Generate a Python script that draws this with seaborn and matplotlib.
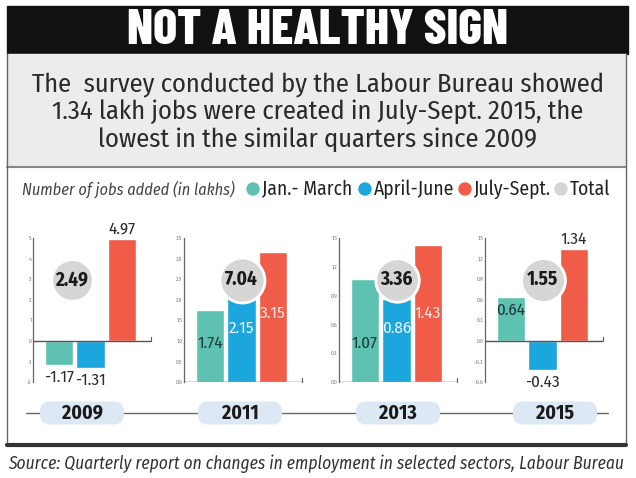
import matplotlib.pyplot as plt
import numpy as np
import pandas as pd
import seaborn as sns
from matplotlib import font_manager
from matplotlib.patches import Circle, FancyBboxPatch, Rectangle

# data (lakh jobs)
years = ["2009", "2011", "2013", "2015"]
quarters = ["Jan.- March", "April-June", "July-Sept."]
jan_mar = [-1.17, 1.74, 1.07, 0.64]
apr_jun = [-1.31, 2.15, 0.86, -0.43]
jul_sep = [4.97, 3.15, 1.43, 1.34]
totals = [2.49, 7.04, 3.36, 1.55]

y_ticks = [
    [-2, -1, 0, 1, 2, 3, 4, 5],
    [0.0, 0.5, 1.0, 1.5, 2.0, 2.5, 3.0, 3.5],
    [0.0, 0.3, 0.6, 0.9, 1.2, 1.5],
    [-0.6, -0.3, 0.0, 0.3, 0.6, 0.9, 1.2, 1.5],
]
tick_fmt = ["{:.0f}", "{:.1f}", "{:.1f}", "{:.1f}"]

title = "NOT A HEALTHY SIGN"
subtitle = ("The  survey conducted by the Labour Bureau showed\n"
            "1.34 lakh jobs were created in July-Sept. 2015, the\n"
            "lowest in the similar quarters since 2009")
legend_title = "Number of jobs added (in lakhs)"
source = "Source: Quarterly report on changes in employment in selected sectors, Labour Bureau"

colors = ["#5ec2b3", "#1ba6dd", "#f15c48"]
total_color = "#d6d6d4"
inside_colors = ["#1d3b37", "#eaf7fd", "#fde3dd"]

df = pd.DataFrame({
    "year": np.repeat(years, 3),
    "quarter": quarters * len(years),
    "jobs": [v for trio in zip(jan_mar, apr_jun, jul_sep) for v in trio],
})

available = {f.name for f in font_manager.fontManager.ttflist}


def pick(*cands):
    for c in cands:
        if c in available:
            return c
    return "DejaVu Sans"


head_font = pick("Barlow Condensed", "Fira Sans Extra Condensed", "Oswald")
body_font = pick("Fira Sans Condensed", "PT Sans Narrow", "Roboto Condensed",
                 "Sofia Sans Condensed", "Encode Sans Condensed")

sns.set_theme(style="white")
plt.rcParams["font.family"] = [body_font, "DejaVu Sans"]

W, H = 636, 478
fig = plt.figure(figsize=(W / 100, H / 100), dpi=100)

# pixel-space background axes for the frame, title, legend, timeline
bg = fig.add_axes([0, 0, 1, 1], zorder=0)
bg.set_xlim(0, W)
bg.set_ylim(H, 0)
bg.axis("off")

bg.add_patch(Rectangle((7, 6), 621, 48, color="#111111"))
t_title = bg.text(318, 31, title, color="white", fontsize=30, family=[head_font, "DejaVu Sans"],
                  fontweight=800, ha="center", va="center")

bg.add_patch(Rectangle((7, 54), 619, 112, color="#ececec"))
bg.plot([7, 626], [167, 167], color="#888888", lw=1.5)
t_sub = bg.text(318, 112, subtitle, ha="center", va="center", fontsize=19,
                color="#2a2a2a", linespacing=1.12)

bg.plot([7, 7], [54, 445], color="#666666", lw=1)
bg.plot([626, 626], [54, 445], color="#666666", lw=1)
bg.plot([7, 626], [445, 445], color="#333333", lw=3)

# legend row
t_leg = bg.text(22, 189, legend_title, style="italic", fontsize=12, color="#444444",
                va="center")
leg_x = [253, 365, 465, 561]
leg_texts = []
for x, c, lab in zip(leg_x, colors + [total_color], quarters + ["Total"]):
    bg.add_patch(Circle((x, 189), 6, color=c))
    leg_texts.append(bg.text(x + 9, 189, lab, fontsize=12.5, va="center", color="#222222"))

# year timeline
bg.plot([26, 608], [413, 413], color="#666666", lw=1, zorder=1)
pill_x = [82, 240, 398, 555]
year_texts = []
for x, yr in zip(pill_x, years):
    bg.add_patch(FancyBboxPatch((x - 42, 401.5), 84, 23,
                                boxstyle="round,pad=0,rounding_size=10",
                                fc="#dce8f4", ec="none", zorder=2))
    year_texts.append(bg.text(x, 413, yr, fontweight="bold", fontsize=14.5, ha="center",
                              va="center", color="#1a1a1a", zorder=3))

t_src = bg.text(8, 464, source, style="italic", fontsize=12.6, color="#333333", va="center")

# one small bar panel per year
lefts = [33, 184, 339, 485]
circle_x = [0.41, 1.0, 1.0, 1.0]
circle_s = [900, 1050, 980, 1000]
inside_fracs = [0.27, 0.375, 0.48]
xmin, xmax = -0.825, 2.92
value_texts = []
total_texts = []

for i, yr in enumerate(years):
    ax = fig.add_axes([lefts[i] / W, 1 - 382 / H, 118 / W, 144 / H], zorder=2)
    ax.patch.set_alpha(0)
    sub = df[df["year"] == yr]
    sns.barplot(data=sub, x="quarter", y="jobs", hue="quarter", palette=colors,
                width=0.9, saturation=1, errorbar=None, legend=False, ax=ax)

    ax.set_xlim(xmin, xmax)
    ax.set_ylim(y_ticks[i][0], y_ticks[i][-1])
    ax.set_yticks(y_ticks[i])
    ax.set_yticklabels([tick_fmt[i].format(t) for t in y_ticks[i]])
    ax.set_xticks([])
    ax.set_xlabel("")
    ax.set_ylabel("")
    ax.tick_params(axis="y", direction="in", length=2, width=0.6, pad=1,
                   labelsize=4, colors="#777777")
    for side in ["top", "right", "bottom"]:
        ax.spines[side].set_visible(False)
    ax.spines["left"].set_color("#666666")
    ax.spines["left"].set_linewidth(0.9)
    ax.axhline(0, color="#555555", lw=1, zorder=3)
    span = y_ticks[i][-1] - y_ticks[i][0]
    ax.plot([xmax, xmax], [0, 0.03 * span], color="#555555", lw=0.8, clip_on=False)

    vals = sub["jobs"].tolist()
    for j, v in enumerate(vals):
        lab = f"{v:.2f}"
        kw = dict(ha="center", fontsize=13, zorder=4)
        if i in (1, 2):
            t = ax.text(j, inside_fracs[j], lab, transform=ax.get_xaxis_transform(),
                        va="center", color=inside_colors[j], **kw)
        elif i == 3 and j == 0:
            t = ax.annotate(lab, (j, v), xytext=(0, -4), textcoords="offset points",
                            va="top", color=inside_colors[0], **kw)
        elif v > 0:
            t = ax.annotate(lab, (j, v), xytext=(0, 1), textcoords="offset points",
                            va="bottom", color="#2b2b2b", annotation_clip=False, **kw)
        else:
            t = ax.annotate(lab, (j, v), xytext=(0, -3), textcoords="offset points",
                            va="top", color="#2b2b2b", annotation_clip=False, **kw)
        value_texts.append(t)

    ax.scatter([circle_x[i]], [0.71], s=circle_s[i], color=total_color,
               edgecolor="white", linewidth=2, transform=ax.get_xaxis_transform(),
               zorder=5, clip_on=False)
    total_texts.append(ax.text(circle_x[i], 0.71, f"{totals[i]:.2f}",
                               transform=ax.get_xaxis_transform(),
                               ha="center", va="center", fontsize=15, fontweight="bold",
                               color="#1a1a1a", zorder=6))

# scale each group of texts so a sample matches its measured width in the reference
fig.canvas.draw()
renderer = fig.canvas.get_renderer()


def fit(sample, width_px, group=None):
    k = width_px / sample.get_window_extent(renderer).width
    for t in (group or [sample]):
        t.set_fontsize(t.get_fontsize() * k)


fit(t_title, 382)
fit(t_sub, 573)
fit(t_leg, 213)
fit(leg_texts[0], 90, leg_texts)
fit(t_src, 615)
fit(year_texts[0], 41, year_texts)
fit(value_texts[2], 27, value_texts)
fit(total_texts[0], 33, total_texts)

fig.savefig("out.png", dpi=100)
